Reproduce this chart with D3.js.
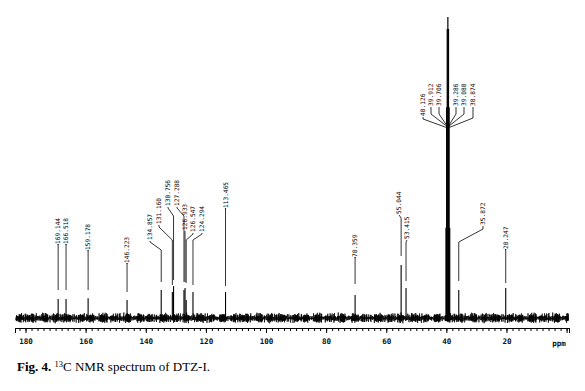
<!DOCTYPE html>
<html><head><meta charset="utf-8">
<script src="https://cdn.jsdelivr.net/npm/d3@7/dist/d3.min.js"></script>
<style>
body{margin:0;background:#fff;}
svg{display:block;}
</style></head>
<body><svg id="c" width="585" height="391"></svg>
<script>
// ---- data ----
const peakPpm    = [169.144,166.518,159.178,146.223,134.857,131.160,130.756,127.288,126.933,126.547,124.294,113.465,70.359,55.044,53.415,35.872,20.247];
const peakHeight = [6.3,6.3,6.6,6.0,9.3,8.6,10.6,9.3,10.0,6.0,8.6,8.6,7.6,17.6,10.0,9.3,10.0];
const peakLabels = ["169.144","166.518","159.178","146.223","134.857","131.160","130.756","127.288","126.933","126.547","124.294","113.465","70.359","55.044","53.415","35.872","20.247"];
const solventPpm    = [40.126,39.912,39.706,39.500,39.286,39.080,38.874];
const solventHeight = [30,70,96,100,96,70,30];
const solventLabels = ["40.126","39.912","39.706","","39.286","39.080","38.874"];
const majorTicks = [180,160,140,120,100,80,60,40,20,0];
const axisUnit = "ppm";
// baseline noise texture (hand-typed, used cyclically)
const noiseA = [0.2,-0.8,0.9,-0.3,0.6,-1.0,0.4,-0.2,0.8,-0.6,0.1,0.7,-0.9,0.3,-0.4,1.0,-0.7,0.5,-0.1,0.6,-0.5,0.9,-0.8,0.2,-0.3,0.4,-1.0,0.7,-0.2,0.3,0.8,-0.6,0.1,-0.9,0.5,-0.4,0.9,-0.2,0.6,-0.7,0.0];
const noiseB = [-0.5,0.9,-0.2,0.4,-0.9,0.1,0.7,-0.6,0.3,-0.1,0.8,-0.8,0.5,-0.3,0.6,-0.7,0.2,0.9,-0.4,0.1,-1.0,0.6,-0.2,0.4,-0.6,0.8,-0.3,0.5,-0.8];

// ---- layout (pixel positions for label leaders: labelX, textBottom, bendStart, bendEnd, leaderEnd) ----
const peakLabelLayout = [
 [58,244,244,244,290],[66,244,244,244,290],[88,250,250,250,290],[127,263,263,263,292],
 [150,240,242,250,282],[159,224,227,240,285],[168,206,208,216,280],[177,206,208,216,282],
 [185,230,231,236,282],[193,232,234,240,283],[202,232,234,240,285],[225.5,208,208,208,286],
 [355,257,257,257,284],[399,214,215,218,256],[407,239,240,242,281],[483,225,229,242,281],[505.6,249,249,249,283]
];
const solventLabelLayout = [[423,116,119,128],[431,106,114,127],[439,106,114,127],null,[456,106,114,127],[464,106,114,127],[473,106,118,128]];

const svg = d3.select("#c");
const x = d3.scaleLinear().domain([183.5,-0.8]).range([15,569]);
const y = d3.scaleLinear().domain([0,100]).range([318,17]);

// noise baseline
const step = 0.06;
const pts = d3.range(183.3, -0.7, -step).map((p,i)=>[p, (noiseA[i%noiseA.length]*1.3 + noiseB[i%noiseB.length]*1.0)]);
svg.append("path")
  .attr("d", d3.line().x(d=>x(d[0])).y(d=>y(0)+d[1]*2.4)(pts))
  .attr("fill","none").attr("stroke","#000").attr("stroke-width",0.7);

// peaks
svg.selectAll("line.pk").data(peakPpm).join("line").attr("class","pk")
  .attr("x1",d=>x(d)).attr("x2",d=>x(d))
  .attr("y1",y(0)+2).attr("y2",(d,i)=>y(peakHeight[i]))
  .attr("stroke","#000").attr("stroke-width",1.1);

// solvent
svg.selectAll("line.sv").data(solventPpm).join("line").attr("class","sv")
  .attr("x1",d=>x(d)).attr("x2",d=>x(d))
  .attr("y1",y(0)+3).attr("y2",(d,i)=>y(solventHeight[i]))
  .attr("stroke","#000").attr("stroke-width",1.2);

// labels + leaders
const lblFont = "DejaVu Sans Mono, monospace";
peakPpm.forEach((p,i)=>{
  const L = peakLabelLayout[i], px = x(p);
  svg.append("path")
    .attr("d", `M${L[0]},${L[1]+1}L${L[0]},${L[2]}L${px},${L[3]}L${px},${L[4]}`)
    .attr("fill","none").attr("stroke","#000").attr("stroke-width",0.8);
  svg.append("text").attr("transform",`translate(${L[0]+2},${L[1]}) rotate(-90)`)
    .attr("font-family",lblFont).attr("font-size",6.2).attr("fill","#000")
    .text(peakLabels[i]);
});
solventPpm.forEach((p,i)=>{
  const L = solventLabelLayout[i];
  if(!L) return;
  svg.append("path")
    .attr("d", `M${L[0]},${L[1]+1}L${L[0]},${L[2]}L${x(solventPpm[3])},${L[3]}`)
    .attr("fill","none").attr("stroke","#000").attr("stroke-width",0.8);
  svg.append("text").attr("transform",`translate(${L[0]+2},${L[1]}) rotate(-90)`)
    .attr("font-family",lblFont).attr("font-size",6.2).attr("fill","#000")
    .text(solventLabels[i]);
});

// axes
const axY = 328;
const minor = svg.append("g").attr("transform",`translate(0,${axY})`)
  .call(d3.axisBottom(x).tickValues(d3.range(0,183,2)).tickSize(3).tickFormat(""));
const major = svg.append("g").attr("transform",`translate(0,${axY})`)
  .call(d3.axisBottom(x).tickValues(majorTicks).tickSize(5).tickPadding(6).tickFormat(d=>d===0?"":d3.format("d")(d)));
[minor,major].forEach(g=>{
  g.selectAll("path,line").attr("stroke","#000").attr("stroke-width",1);
});
major.selectAll("text").attr("font-family",lblFont).attr("font-size",7.6).attr("font-weight","bold").attr("fill","#111");
svg.append("text").attr("x",559).attr("y",346).attr("text-anchor","middle")
  .attr("font-family",lblFont).attr("font-size",7.6).attr("font-weight","bold").attr("fill","#111").text(axisUnit);

// caption
const cap = svg.append("text").attr("x",17).attr("y",371)
  .attr("font-family","Liberation Serif, Times New Roman, serif").attr("font-size",13).attr("fill","#000");
cap.append("tspan").attr("font-weight","bold").text("Fig. 4.");
cap.append("tspan").text(" ");
cap.append("tspan").attr("font-size",8.5).attr("dy",-4.5).text("13");
cap.append("tspan").attr("dy",4.5).text("C NMR spectrum  of DTZ-I.");
</script></body></html>
